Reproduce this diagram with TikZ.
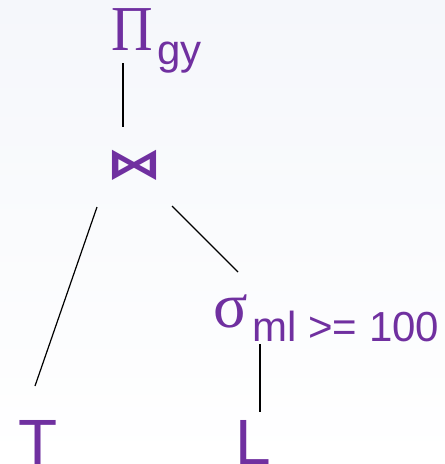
\documentclass[tikz,border=0pt]{standalone}
\usepackage{fontspec}
\setmainfont{Liberation Sans}
\newfontfamily\greekfont{Liberation Serif}
\newfontfamily\symbolfont{DejaVu Sans}
\usetikzlibrary{calc}
\definecolor{oppurple}{RGB}{112, 48, 160}
\definecolor{paleback}{RGB}{245, 247, 251}

\tikzset{
    op/.style={inner sep=0pt, outer sep=0pt, text=oppurple, font=\fontsize{64}{64}\selectfont},
    edge/.style={draw=black, line width=1.2pt}
}
\newcommand{\opsub}[1]{\raisebox{-14pt}{\fontsize{42}{42}\selectfont #1}}

\begin{document}
\begin{tikzpicture}[x=1pt, y=-1pt]
    \useasboundingbox (0,0) rectangle (445,464);
    % Background
    \shade[top color=paleback, bottom color=white] (0,0) rectangle (445,464);

    % Operators
    \node[op, anchor=base west] (proj) at (111,50) {\scalebox{0.9}[1]{\greekfont Π}\hspace{5pt}\opsub{gy}};
    \node[op, anchor=center, font=\fontsize{56}{56}\selectfont] (join) at (134,165.5) {\scalebox{1}[0.75]{\symbolfont\bfseries ⋈}};
    \node[op, anchor=base west] (sel) at (213,327) {{\greekfont σ}\hspace{5pt}\opsub{ml >= 100}};

    % Relations
    \node[op, anchor=base west] (tbl) at (18.5,464) {T};
    \node[op, anchor=base west] (lst) at (235,464) {L};

    % Edges
    \draw[edge] ($(proj.base west)+(12,13)$) -- ($(join.center)+(-11,-38.5)$);
    \draw[edge] ($(join.center)+(-37,41.5)$) -- ($(tbl.base west)+(16.5,-78)$);
    \draw[edge] ($(join.center)+(38,40.5)$) -- ($(sel.base west)+(25,-55)$);
    \draw[edge] ($(sel.base west)+(47,17)$) -- ($(lst.base west)+(25,-52)$);
\end{tikzpicture}
\end{document}
